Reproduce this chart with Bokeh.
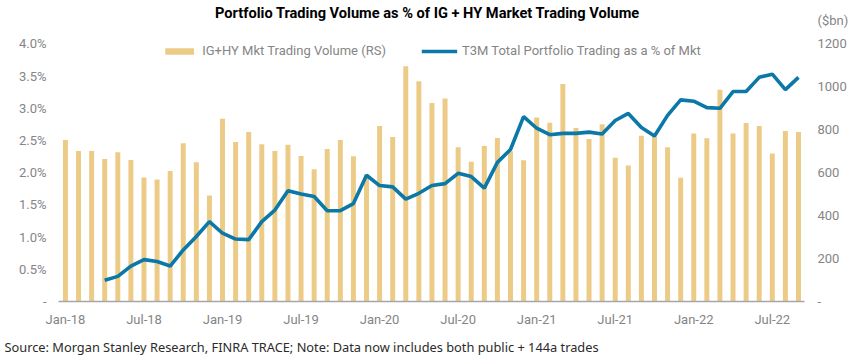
import pandas as pd
from bokeh.plotting import figure
from bokeh.models import (Range1d, LinearAxis, FixedTicker, Legend, LegendItem,
                          Title, Label, ColumnDataSource)
from bokeh.embed import file_html
from bokeh.resources import INLINE

# ---- data ----
months = pd.date_range("2018-01-01", periods=57, freq="MS").strftime("%b-%y").tolist()

volume_bn = [752, 701, 701, 664, 695, 659, 577, 568, 608, 737, 648, 494,
             851, 743, 789, 732, 701, 730, 678, 616, 710, 752, 676, 590,
             817, 766, 1096, 1026, 925, 946, 718, 651, 724, 761, 700, 658,
             857, 832, 1013, 808, 757, 826, 670, 633, 772, 768, 718, 576,
             783, 760, 986, 783, 831, 817, 689, 794, 789]

# T3M portfolio trading as % of market, starts Apr-18
pt_start = "Apr-18"
pt_pct = [0.33, 0.39, 0.55, 0.65, 0.62, 0.55, 0.80, 1.01, 1.24,
          1.06, 0.97, 0.96, 1.24, 1.42, 1.72, 1.67, 1.63, 1.41, 1.41, 1.52, 1.96,
          1.80, 1.78, 1.59, 1.68, 1.80, 1.83, 1.99, 1.94, 1.76, 2.16, 2.36, 2.87,
          2.69, 2.59, 2.61, 2.61, 2.63, 2.60, 2.81, 2.92, 2.70, 2.57, 2.89, 3.13,
          3.11, 3.01, 3.00, 3.26, 3.26, 3.48, 3.53, 3.29, 3.48]

x_tick_labels = ["Jan-18", "Jul-18", "Jan-19", "Jul-19", "Jan-20", "Jul-20",
                 "Jan-21", "Jul-21", "Jan-22", "Jul-22"]
left_ticks = [0, 0.5, 1.0, 1.5, 2.0, 2.5, 3.0, 3.5, 4.0]
right_ticks = [0, 200, 400, 600, 800, 1000, 1200]

title_text = "Portfolio Trading Volume as % of IG + HY Market Trading Volume"
unit_text = "($bn)"
source_text = "Source: Morgan Stanley Research, FINRA TRACE; Note: Data now includes both public + 144a trades"
bar_label = "IG+HY Mkt Trading Volume (RS)"
line_label = "T3M Total Portfolio Trading as a % of Mkt"

# ---- build ----
BAR = "#ECCB87"
LINE = "#0B78A8"
GRAY = "#858585"

# frame spans canvas y 0..302; 4.0% / 1200 sit at y=43.5
FRAME_H = 302.0
PX_PER_PCT = (FRAME_H - 43.5) / 4.0
left_top = FRAME_H / PX_PER_PCT
right_top = 1200 * FRAME_H / (FRAME_H - 43.5)
unit_tick = 1200 * (FRAME_H - 20) / (FRAME_H - 43.5)   # where "($bn)" sits

x_idx = list(range(len(months)))
start = months.index(pt_start)
line_x = x_idx[start:start + len(pt_pct)]

bar_src = ColumnDataSource(dict(x=x_idx, vol=volume_bn, m=months))
line_src = ColumnDataSource(dict(x=line_x, pct=pt_pct))

p = figure(width=851, height=362, output_backend="svg", toolbar_location=None,
           x_range=Range1d(-0.53, 56.46), y_range=Range1d(0, left_top),
           min_border_left=58, min_border_right=46, min_border_top=0,
           min_border_bottom=60, title=None)
p.extra_y_ranges = {"vol": Range1d(0, right_top)}
p.outline_line_color = None
p.grid.visible = False
p.background_fill_color = "white"
p.border_fill_color = "white"

bars = p.vbar(x="x", top="vol", width=0.38, y_range_name="vol", source=bar_src,
              fill_color=BAR, line_color=None)
ln = p.line(x="x", y="pct", source=line_src, line_color=LINE, line_width=3.6)

# left axis
ya = p.yaxis[0]
ya.ticker = FixedTicker(ticks=left_ticks)
ya.major_label_overrides = {t: ("-" if t == 0 else f"{t:.1f}%") for t in left_ticks}
ya.axis_line_color = None
ya.major_tick_line_color = None
ya.minor_tick_line_color = None
ya.major_tick_out = 0
ya.major_tick_in = 0
ya.major_label_standoff = 12
ya.major_label_text_font = "Roboto"
ya.major_label_text_font_size = "13px"
ya.major_label_text_color = GRAY

# right axis (unit label rides along as an extra tick label above 1200)
ra = LinearAxis(y_range_name="vol", ticker=FixedTicker(ticks=right_ticks + [unit_tick]))
ov = {t: ("-" if t == 0 else str(t)) for t in right_ticks}
ov[unit_tick] = unit_text
ra.major_label_overrides = ov
ra.axis_line_color = None
ra.major_tick_line_color = None
ra.minor_tick_line_color = None
ra.major_tick_out = 0
ra.major_tick_in = 0
ra.major_label_standoff = 13
ra.major_label_text_font = "Roboto"
ra.major_label_text_font_size = "13px"
ra.major_label_text_color = GRAY
p.add_layout(ra, "right")

# bottom axis
xa = p.xaxis[0]
xt = [months.index(l) for l in x_tick_labels]
xa.ticker = FixedTicker(ticks=xt)
xa.major_label_overrides = {months.index(l): l for l in x_tick_labels}
xa.axis_line_color = "#A6A6A6"
xa.axis_line_width = 1.5
xa.major_tick_line_color = None
xa.minor_tick_line_color = None
xa.major_tick_out = 0
xa.major_tick_in = 0
xa.major_label_standoff = 10
xa.major_label_text_font = "Roboto"
xa.major_label_text_font_size = "13px"
xa.major_label_text_color = GRAY

legend = Legend(items=[LegendItem(label=bar_label, renderers=[bars]),
                       LegendItem(label=line_label, renderers=[ln])],
                location="top_center", orientation="horizontal")
legend.background_fill_alpha = 0
legend.border_line_color = None
legend.padding = 0
legend.margin = 43
legend.spacing = 35
legend.glyph_width = 36
legend.glyph_height = 8
legend.label_height = 13
legend.label_standoff = 5
legend.label_text_font = "Roboto"
legend.label_text_font_size = "13px"
legend.label_text_color = GRAY
legend.label_text_baseline = "middle"
p.add_layout(legend, "center")

# chart title inside the (extended) frame
p.add_layout(Label(x=427 - 58, y=FRAME_H - 13, x_units="screen", y_units="screen",
                   text=title_text, text_align="center", text_baseline="middle",
                   text_font="Roboto", text_font_style="bold",
                   text_font_size="14.6px", text_color="black"))

p.add_layout(Title(text=source_text, align="left", offset=-54, standoff=13,
                   text_font="Noto Sans", text_font_style="normal",
                   text_font_size="12.8px", text_color="#2B2B2B"), "below")

open("out.html", "w").write(file_html(p, INLINE))
